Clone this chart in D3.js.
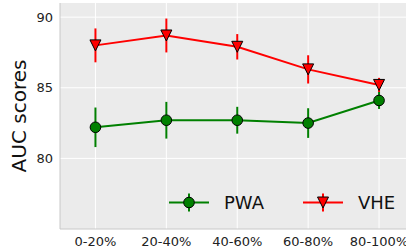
<!DOCTYPE html>
<html>
<head>
<meta charset="utf-8">
<script src="https://cdn.jsdelivr.net/npm/d3@7"></script>
<style>
  body { margin: 0; background: #fff; }
  svg { display: block; font-family: "DejaVu Sans", sans-serif; }
</style>
</head>
<body>
<svg id="chart" width="406" height="248"></svg>
<script>
// chart data
var categories = ['0-20%', '20-40%', '40-60%', '60-80%', '80-100%'];
var pwaValues = [82.2, 82.7, 82.7, 82.5, 84.1];
var pwaErrors = [1.4, 1.3, 0.95, 1.05, 0.6];
var vheValues = [88.0, 88.7, 87.9, 86.3, 85.2];
var vheErrors = [1.2, 1.2, 0.9, 1.0, 0.5];
var yTicks = [80, 85, 90];

var svg = d3.select('#chart');
var plotLeft = 60, plotRight = 414.5, plotTop = 3, plotBottom = 229;

var x = d3.scaleLinear().domain([-0.5, categories.length - 0.5]).range([plotLeft, plotRight]);
var y = d3.scaleLinear().domain([75, 91]).range([plotBottom, plotTop]);

// background
svg.append('rect')
    .attr('x', plotLeft).attr('y', plotTop)
    .attr('width', plotRight - plotLeft).attr('height', plotBottom - plotTop)
    .attr('fill', '#ebebeb');

// grid
svg.append('g').selectAll('line').data(yTicks).enter().append('line')
    .attr('x1', plotLeft).attr('x2', plotRight)
    .attr('y1', function (d) { return y(d); }).attr('y2', function (d) { return y(d); })
    .attr('stroke', '#fff').attr('stroke-width', 1);
svg.append('g').selectAll('line').data(categories).enter().append('line')
    .attr('x1', function (d, i) { return x(i); }).attr('x2', function (d, i) { return x(i); })
    .attr('y1', plotTop).attr('y2', plotBottom)
    .attr('stroke', '#fff').attr('stroke-width', 1);

// spines
svg.append('line').attr('x1', plotLeft).attr('x2', plotLeft).attr('y1', plotTop).attr('y2', plotBottom)
    .attr('stroke', '#c8c8c8').attr('stroke-width', 1);
svg.append('line').attr('x1', plotLeft).attr('x2', plotRight).attr('y1', plotBottom).attr('y2', plotBottom)
    .attr('stroke', '#c8c8c8').attr('stroke-width', 1);

// tick labels
svg.append('g').selectAll('text').data(yTicks).enter().append('text')
    .attr('x', plotLeft - 7).attr('y', function (d) { return y(d); })
    .attr('dy', '0.36em').attr('text-anchor', 'end')
    .attr('font-size', 13).attr('fill', '#222')
    .text(function (d) { return d; });
svg.append('g').selectAll('text').data(categories).enter().append('text')
    .attr('x', function (d, i) { return x(i); }).attr('y', 246)
    .attr('text-anchor', 'middle')
    .attr('font-size', 13).attr('fill', '#222')
    .text(function (d) { return d; });

// y label
svg.append('text')
    .attr('transform', 'translate(26,' + ((plotTop + plotBottom) / 2) + ') rotate(-90)')
    .attr('text-anchor', 'middle')
    .attr('font-size', 20).attr('fill', '#111')
    .text('AUC scores');

function triangle(cx, cy, s) {
    return 'M' + (cx - s) + ',' + (cy - s) + 'L' + (cx + s) + ',' + (cy - s) + 'L' + cx + ',' + (cy + s) + 'Z';
}

function drawMarker(g, cx, cy, color, marker) {
    if (marker === 'circle') {
        g.append('circle').attr('cx', cx).attr('cy', cy).attr('r', 5.3)
            .attr('fill', color).attr('stroke', '#000').attr('stroke-width', 1);
    } else {
        g.append('path').attr('d', triangle(cx, cy, 5.5))
            .attr('fill', color).attr('stroke', '#000').attr('stroke-width', 1);
    }
}

function drawSeries(values, errors, color, marker) {
    var g = svg.append('g');
    var line = d3.line()
        .x(function (d, i) { return x(i); })
        .y(function (d) { return y(d); });
    g.append('path').datum(values)
        .attr('d', line).attr('fill', 'none')
        .attr('stroke', color).attr('stroke-width', 2);
    g.selectAll('line.err').data(values).enter().append('line')
        .attr('class', 'err')
        .attr('x1', function (d, i) { return x(i); }).attr('x2', function (d, i) { return x(i); })
        .attr('y1', function (d, i) { return y(d + errors[i]); })
        .attr('y2', function (d, i) { return y(d - errors[i]); })
        .attr('stroke', color).attr('stroke-width', 2);
    values.forEach(function (d, i) {
        drawMarker(g, x(i), y(d), color, marker);
    });
}

drawSeries(pwaValues, pwaErrors, '#008000', 'circle');
drawSeries(vheValues, vheErrors, '#ff0000', 'triangle');

// legend
var legendItems = [
    { name: 'PWA', color: '#008000', marker: 'circle', x: 169 },
    { name: 'VHE', color: '#ff0000', marker: 'triangle', x: 303 }
];
var legendY = 202.5;
legendItems.forEach(function (item) {
    var g = svg.append('g');
    g.append('line').attr('x1', item.x).attr('x2', item.x + 40)
        .attr('y1', legendY).attr('y2', legendY)
        .attr('stroke', item.color).attr('stroke-width', 2);
    g.append('line').attr('x1', item.x + 20).attr('x2', item.x + 20)
        .attr('y1', legendY - 9).attr('y2', legendY + 9)
        .attr('stroke', item.color).attr('stroke-width', 2);
    drawMarker(g, item.x + 20, legendY, item.color, item.marker);
    g.append('text').attr('x', item.x + 55).attr('y', legendY).attr('dy', '0.36em')
        .attr('font-size', 18).attr('fill', '#111')
        .text(item.name);
});
</script>
</body>
</html>
